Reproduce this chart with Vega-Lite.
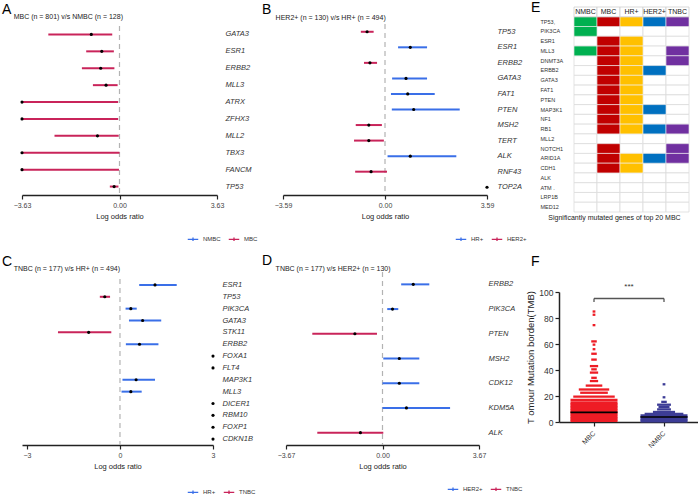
{
  "$schema": "https://vega.github.io/schema/vega-lite/v6.json",
  "padding": {"left": 2, "top": 0, "right": 0, "bottom": 0},
  "autosize": {"type": "pad"},
  "config": {
    "font": "Liberation Sans",
    "view": {"stroke": null},
    "title": {"fontSize": 14, "fontWeight": "normal", "anchor": "start", "frame": "group", "subtitleFontSize": 7, "subtitleColor": "#222", "color": "#000", "font": "Liberation Sans", "subtitleFont": "Liberation Sans"},
    "axisX": {"domainColor": "#222", "domainWidth": 1.5, "tickColor": "#222", "tickWidth": 1.2, "tickSize": 4, "labelFontSize": 7, "labelColor": "#444", "titleFontSize": 7.5, "titleFontWeight": "normal", "titleColor": "#222", "grid": false, "labelFlush": false, "labelOverlap": false, "titlePadding": 4},
    "axisY": {"domain": false, "ticks": false, "grid": false, "labelFontSize": 7.5, "labelFontStyle": "italic", "labelColor": "#333", "orient": "right", "labelOverlap": false},
    "legend": {"orient": "none", "direction": "horizontal", "labelFontSize": 6, "labelColor": "#333", "symbolType": "M-1,0H1M0,-0.35V0.35", "symbolSize": 110, "symbolStrokeWidth": 1.3, "labelOffset": 4, "columnPadding": 5, "padding": 0}
  },
  "datasets": {
    "heat": [
      {"gene": "TP53,", "NMBC": 1, "MBC": 1, "HR": 1, "HER2": 1, "TNBC": 1},
      {"gene": "PIK3CA", "NMBC": 1, "MBC": 0, "HR": 0, "HER2": 0, "TNBC": 0},
      {"gene": "ESR1", "NMBC": 0, "MBC": 1, "HR": 1, "HER2": 0, "TNBC": 0},
      {"gene": "MLL3", "NMBC": 1, "MBC": 1, "HR": 1, "HER2": 0, "TNBC": 1},
      {"gene": "DNMT3A", "NMBC": 0, "MBC": 1, "HR": 1, "HER2": 0, "TNBC": 1},
      {"gene": "ERBB2", "NMBC": 0, "MBC": 1, "HR": 1, "HER2": 1, "TNBC": 0},
      {"gene": "GATA3", "NMBC": 0, "MBC": 1, "HR": 1, "HER2": 0, "TNBC": 0},
      {"gene": "FAT1", "NMBC": 0, "MBC": 1, "HR": 1, "HER2": 0, "TNBC": 0},
      {"gene": "PTEN", "NMBC": 0, "MBC": 1, "HR": 1, "HER2": 0, "TNBC": 0},
      {"gene": "MAP3K1", "NMBC": 0, "MBC": 1, "HR": 1, "HER2": 1, "TNBC": 0},
      {"gene": "NF1", "NMBC": 0, "MBC": 1, "HR": 1, "HER2": 0, "TNBC": 0},
      {"gene": "RB1", "NMBC": 0, "MBC": 1, "HR": 1, "HER2": 1, "TNBC": 1},
      {"gene": "MLL2", "NMBC": 0, "MBC": 0, "HR": 0, "HER2": 0, "TNBC": 0},
      {"gene": "NOTCH1", "NMBC": 0, "MBC": 1, "HR": 0, "HER2": 0, "TNBC": 1},
      {"gene": "ARID1A", "NMBC": 0, "MBC": 1, "HR": 1, "HER2": 1, "TNBC": 1},
      {"gene": "CDH1", "NMBC": 0, "MBC": 1, "HR": 1, "HER2": 0, "TNBC": 0},
      {"gene": "ALK", "NMBC": 0, "MBC": 0, "HR": 0, "HER2": 0, "TNBC": 0},
      {"gene": "ATM .", "NMBC": 0, "MBC": 0, "HR": 0, "HER2": 0, "TNBC": 0},
      {"gene": "LRP1B", "NMBC": 0, "MBC": 0, "HR": 0, "HER2": 0, "TNBC": 0},
      {"gene": "MED12", "NMBC": 0, "MBC": 0, "HR": 0, "HER2": 0, "TNBC": 0}
    ],
    "hdr": [
      {"gene": "hdr", "grp": "NMBC", "label": "NMBC"},
      {"gene": "hdr", "grp": "MBC", "label": "MBC"},
      {"gene": "hdr", "grp": "HR", "label": "HR+"},
      {"gene": "hdr", "grp": "HER2", "label": "HER2+"},
      {"gene": "hdr", "grp": "TNBC", "label": "TNBC"}
    ]
  },
  "vconcat": [
    {
      "hconcat": [
        {
          "width": 195, "height": 188,
          "title": {"text": "A", "subtitle": "\u200b\u00a0\u00a0\u00a0\u00a0\u00a0\u00a0MBC (n = 801) v/s NMBC (n = 128)", "dx": -20, "offset": -13, "subtitlePadding": -4},
          "data": {"values": [
            {"gene": "GATA3", "grp": "MBC", "lo": -2.65, "est": -1.05, "hi": -0.27},
            {"gene": "ESR1", "grp": "MBC", "lo": -1.24, "est": -0.66, "hi": -0.21},
            {"gene": "ERBB2", "grp": "MBC", "lo": -1.40, "est": -0.70, "hi": -0.19},
            {"gene": "MLL3", "grp": "MBC", "lo": -0.99, "est": -0.50, "hi": -0.07},
            {"gene": "ATRX", "grp": "MBC", "lo": -3.63, "est": -3.63, "hi": -0.05},
            {"gene": "ZFHX3", "grp": "MBC", "lo": -3.63, "est": -3.63, "hi": -0.05},
            {"gene": "MLL2", "grp": "MBC", "lo": -2.42, "est": -0.82, "hi": -0.03},
            {"gene": "TBX3", "grp": "MBC", "lo": -3.63, "est": -3.63, "hi": 0.0},
            {"gene": "FANCM", "grp": "MBC", "lo": -3.63, "est": -3.63, "hi": -0.02},
            {"gene": "TP53", "grp": "MBC", "lo": -0.36, "est": -0.20, "hi": -0.04}
          ]},
          "layer": [
            {
              "data": {"values": [{}]},
              "mark": {"type": "rule", "color": "#b3b3b3", "strokeDash": [5, 4], "strokeWidth": 1.2},
              "encoding": {
                "x": {"datum": 0, "type": "quantitative", "scale": {"domain": [-3.63, 3.63], "nice": false, "zero": false}, "axis": {"values": [-3.63, 0, 3.63], "format": ".2f", "title": "Log odds ratio"}},
                "y": {"datum": "GATA3", "type": "nominal", "bandPosition": 0, "scale": {"domain": ["GATA3", "ESR1", "ERBB2", "MLL3", "ATRX", "ZFHX3", "MLL2", "TBX3", "FANCM", "TP53"], "range": [19, 188], "paddingInner": 0, "paddingOuter": 0}, "axis": {"title": null, "labelPadding": 8}},
                "y2": {"datum": "TP53", "bandPosition": 1}
              }
            },
            {
              "mark": {"type": "rule", "strokeWidth": 2},
              "transform": [{"filter": "isValid(datum.lo)"}],
              "encoding": {
                "x": {"field": "lo", "type": "quantitative"},
                "x2": {"field": "hi"},
                "y": {"field": "gene", "type": "nominal"},
                "color": {"field": "grp", "type": "nominal", "scale": {"domain": ["NMBC", "MBC"], "range": ["#3A6FE8", "#C9245A"]}, "legend": {"title": null, "legendX": 165, "legendY": 226}}
              }
            },
            {
              "mark": {"type": "point", "filled": true, "color": "#000", "size": 10, "opacity": 1},
              "encoding": {"x": {"field": "est", "type": "quantitative"}, "y": {"field": "gene", "type": "nominal"}}
            }
          ]
        },
        {
          "hconcat": [
            {
              "width": 204, "height": 188,
              "title": {"text": "B", "subtitle": "\u200b\u00a0\u00a0\u00a0\u00a0\u00a0\u00a0\u00a0HER2+ (n = 130) v/s HR+ (n = 494)", "dx": -21, "offset": -14, "subtitlePadding": -3},
              "data": {"values": [
                {"gene": "TP53", "grp": "HER2+", "lo": -0.85, "est": -0.63, "hi": -0.40},
                {"gene": "ESR1", "grp": "HR+", "lo": 0.46, "est": 0.89, "hi": 1.48},
                {"gene": "ERBB2", "grp": "HER2+", "lo": -0.74, "est": -0.53, "hi": -0.28},
                {"gene": "GATA3", "grp": "HR+", "lo": 0.25, "est": 0.74, "hi": 1.48},
                {"gene": "FAT1", "grp": "HR+", "lo": 0.21, "est": 0.80, "hi": 1.75},
                {"gene": "PTEN", "grp": "HR+", "lo": 0.24, "est": 1.01, "hi": 2.63},
                {"gene": "MSH2", "grp": "HER2+", "lo": -1.03, "est": -0.57, "hi": -0.11},
                {"gene": "TERT", "grp": "HER2+", "lo": -1.09, "est": -0.57, "hi": -0.04},
                {"gene": "ALK", "grp": "HR+", "lo": 0.09, "est": 0.89, "hi": 2.51},
                {"gene": "RNF43", "grp": "HER2+", "lo": -1.05, "est": -0.49, "hi": 0.07},
                {"gene": "TOP2A", "grp": null, "lo": null, "est": 3.59, "hi": null}
              ]},
              "layer": [
                {
                  "data": {"values": [{}]},
                  "mark": {"type": "rule", "color": "#b3b3b3", "strokeDash": [5, 4], "strokeWidth": 1.2},
                  "encoding": {
                    "x": {"datum": 0, "type": "quantitative", "scale": {"domain": [-3.59, 3.59], "nice": false, "zero": false}, "axis": {"values": [-3.59, 0, 3.59], "format": ".2f", "title": "Log odds ratio"}},
                    "y": {"datum": "TP53", "type": "nominal", "bandPosition": 0, "scale": {"domain": ["TP53", "ESR1", "ERBB2", "GATA3", "FAT1", "PTEN", "MSH2", "TERT", "ALK", "RNF43", "TOP2A"], "range": [17, 188], "paddingInner": 0, "paddingOuter": 0}, "axis": {"title": null, "labelPadding": 10}},
                    "y2": {"datum": "TOP2A", "bandPosition": 1}
                  }
                },
                {
                  "mark": {"type": "rule", "strokeWidth": 2},
                  "transform": [{"filter": "isValid(datum.lo)"}],
                  "encoding": {
                    "x": {"field": "lo", "type": "quantitative"},
                    "x2": {"field": "hi"},
                    "y": {"field": "gene", "type": "nominal"},
                    "color": {"field": "grp", "type": "nominal", "scale": {"domain": ["HR+", "HER2+"], "range": ["#3A6FE8", "#C9245A"]}, "legend": {"title": null, "legendX": 172, "legendY": 226}}
                  }
                },
                {
                  "mark": {"type": "point", "filled": true, "color": "#000", "size": 10, "opacity": 1, "clip": false},
                  "encoding": {"x": {"field": "est", "type": "quantitative"}, "y": {"field": "gene", "type": "nominal"}}
                }
              ]
            },
            {
              "width": 115, "height": 205,
              "title": {"text": "E", "dx": -43, "offset": -8},
              "layer": [
                {
                  "data": {"name": "heat"},
                  "transform": [{"fold": ["NMBC", "MBC", "HR", "HER2", "TNBC"], "as": ["grp", "v"]}],
                  "mark": {"type": "rect", "fill": "#ffffff", "stroke": "#dcdcdc", "strokeWidth": 0.8},
                  "encoding": {
                    "x": {"field": "grp", "type": "nominal", "scale": {"domain": ["NMBC", "MBC", "HR", "HER2", "TNBC"], "paddingInner": 0, "paddingOuter": 0}, "axis": {"orient": "bottom", "labels": false, "ticks": false, "domain": false, "title": "Significantly mutated genes of top 20 MBC", "titleFontSize": 7, "titleX": 40, "titleAlign": "center", "titlePadding": 1, "titleColor": "#222"}},
                    "y": {"field": "gene", "type": "nominal", "scale": {"domain": ["hdr", "TP53,", "PIK3CA", "ESR1", "MLL3", "DNMT3A", "ERBB2", "GATA3", "FAT1", "PTEN", "MAP3K1", "NF1", "RB1", "MLL2", "NOTCH1", "ARID1A", "CDH1", "ALK", "ATM .", "LRP1B", "MED12"], "paddingInner": 0, "paddingOuter": 0}, "axis": {"orient": "left", "labelAlign": "left", "labelPadding": 34, "tickSize": 0, "labelFontSize": 5.5, "labelFontStyle": "normal", "labelColor": "#333", "title": null, "labelExpr": "datum.value == 'hdr' ? '' : datum.value"}}
                  }
                },
                {
                  "data": {"name": "heat"},
                  "transform": [{"fold": ["NMBC", "MBC", "HR", "HER2", "TNBC"], "as": ["grp", "v"]}, {"filter": "datum.v == 1"}],
                  "mark": {"type": "rect", "stroke": "#f4f4f4", "strokeWidth": 0.6, "opacity": 1},
                  "encoding": {
                    "x": {"field": "grp", "type": "nominal"},
                    "y": {"field": "gene", "type": "nominal"},
                    "color": {"field": "grp", "type": "nominal", "scale": {"domain": ["NMBC", "MBC", "HR", "HER2", "TNBC"], "range": ["#00B050", "#C00000", "#FFC000", "#0070C0", "#7030A0"]}, "legend": null}
                  }
                },
                {
                  "data": {"name": "hdr"},
                  "mark": {"type": "rect", "fill": "#ffffff", "stroke": "#cfcfcf", "strokeWidth": 0.8},
                  "encoding": {"x": {"field": "grp", "type": "nominal"}, "y": {"field": "gene", "type": "nominal"}}
                },
                {
                  "data": {"name": "hdr"},
                  "mark": {"type": "text", "fontSize": 7, "color": "#222", "font": "Liberation Sans"},
                  "encoding": {"x": {"field": "grp", "type": "nominal"}, "y": {"field": "gene", "type": "nominal"}, "text": {"field": "label"}}
                }
              ]
            }
          ],
          "spacing": 87,
          "bounds": "flush",
          "resolve": {"scale": {"color": "independent"}, "legend": {"color": "independent"}}
        }
      ],
      "spacing": 66,
      "bounds": "flush",
      "resolve": {"scale": {"color": "independent"}, "legend": {"color": "independent"}}
    },
    {
      "hconcat": [
        {
          "width": 191, "height": 173,
          "title": {"text": "C", "subtitle": "\u200b\u00a0\u00a0\u00a0\u00a0\u00a0\u00a0TNBC (n = 177) v/s HR+ (n = 494)", "dx": -20, "offset": 0, "subtitlePadding": -4},
          "data": {"values": [
            {"gene": "ESR1", "grp": "HR+", "lo": 0.62, "est": 1.13, "hi": 1.83},
            {"gene": "TP53", "grp": "TNBC", "lo": -0.65, "est": -0.49, "hi": -0.32},
            {"gene": "PIK3CA", "grp": "HR+", "lo": 0.18, "est": 0.35, "hi": 0.54},
            {"gene": "GATA3", "grp": "HR+", "lo": 0.29, "est": 0.73, "hi": 1.33},
            {"gene": "STK11", "grp": "TNBC", "lo": -2.0, "est": -1.01, "hi": -0.28},
            {"gene": "ERBB2", "grp": "HR+", "lo": 0.19, "est": 0.63, "hi": 1.24},
            {"gene": "FOXA1", "grp": null, "lo": null, "est": 3, "hi": null},
            {"gene": "FLT4", "grp": null, "lo": null, "est": 3, "hi": null},
            {"gene": "MAP3K1", "grp": "HR+", "lo": 0.08, "est": 0.52, "hi": 1.13},
            {"gene": "MLL3", "grp": "HR+", "lo": 0.05, "est": 0.35, "hi": 0.70},
            {"gene": "DICER1", "grp": null, "lo": null, "est": 3, "hi": null},
            {"gene": "RBM10", "grp": null, "lo": null, "est": 3, "hi": null},
            {"gene": "FOXP1", "grp": null, "lo": null, "est": 3, "hi": null},
            {"gene": "CDKN1B", "grp": null, "lo": null, "est": 3, "hi": null}
          ]},
          "layer": [
            {
              "data": {"values": [{}]},
              "mark": {"type": "rule", "color": "#b3b3b3", "strokeDash": [5, 4], "strokeWidth": 1.2},
              "encoding": {
                "x": {"datum": 0, "type": "quantitative", "scale": {"domain": [-3.16, 3], "nice": false, "zero": false}, "axis": {"values": [-3, 0, 3], "format": "d", "title": "Log odds ratio"}},
                "y": {"datum": "ESR1", "type": "nominal", "bandPosition": 0, "scale": {"domain": ["ESR1", "TP53", "PIK3CA", "GATA3", "STK11", "ERBB2", "FOXA1", "FLT4", "MAP3K1", "MLL3", "DICER1", "RBM10", "FOXP1", "CDKN1B"], "range": [7, 173], "paddingInner": 0, "paddingOuter": 0}, "axis": {"title": null, "labelPadding": 9}},
                "y2": {"datum": "CDKN1B", "bandPosition": 1}
              }
            },
            {
              "mark": {"type": "rule", "strokeWidth": 2},
              "transform": [{"filter": "isValid(datum.lo)"}],
              "encoding": {
                "x": {"field": "lo", "type": "quantitative"},
                "x2": {"field": "hi"},
                "y": {"field": "gene", "type": "nominal"},
                "color": {"field": "grp", "type": "nominal", "scale": {"domain": ["HR+", "TNBC"], "range": ["#3A6FE8", "#C9245A"]}, "legend": {"title": null, "legendX": 165, "legendY": 214}}
              }
            },
            {
              "mark": {"type": "point", "filled": true, "color": "#000", "size": 10, "opacity": 1, "clip": false},
              "encoding": {"x": {"field": "est", "type": "quantitative"}, "y": {"field": "gene", "type": "nominal"}}
            }
          ]
        },
        {
          "hconcat": [
            {
              "width": 193, "height": 173,
              "title": {"text": "D", "subtitle": "\u200b\u00a0\u00a0\u00a0\u00a0\u00a0\u00a0\u00a0TNBC (n = 177) v/s HER2+ (n = 130)", "dx": -24, "offset": -1, "subtitlePadding": -3},
              "data": {"values": [
                {"gene": "ERBB2", "grp": "HER2+", "lo": 0.71, "est": 1.17, "hi": 1.78},
                {"gene": "PIK3CA", "grp": "HER2+", "lo": 0.18, "est": 0.38, "hi": 0.60},
                {"gene": "PTEN", "grp": "TNBC", "lo": -2.67, "est": -1.05, "hi": -0.21},
                {"gene": "MSH2", "grp": "HER2+", "lo": 0.03, "est": 0.64, "hi": 1.40},
                {"gene": "CDK12", "grp": "HER2+", "lo": 0.0, "est": 0.64, "hi": 1.40},
                {"gene": "KDM5A", "grp": "HER2+", "lo": 0.0, "est": 0.91, "hi": 2.57},
                {"gene": "ALK", "grp": "TNBC", "lo": -2.48, "est": -0.84, "hi": 0.03}
              ]},
              "layer": [
                {
                  "data": {"values": [{}]},
                  "mark": {"type": "rule", "color": "#b3b3b3", "strokeDash": [5, 4], "strokeWidth": 1.2},
                  "encoding": {
                    "x": {"datum": 0, "type": "quantitative", "scale": {"domain": [-3.67, 3.67], "nice": false, "zero": false}, "axis": {"values": [-3.67, 0, 3.67], "format": ".2f", "title": "Log odds ratio"}},
                    "y": {"datum": "ERBB2", "type": "nominal", "bandPosition": 0, "scale": {"domain": ["ERBB2", "PIK3CA", "PTEN", "MSH2", "CDK12", "KDM5A", "ALK"], "range": [0, 173], "paddingInner": 0, "paddingOuter": 0}, "axis": {"title": null, "labelPadding": 9}},
                    "y2": {"datum": "ALK", "bandPosition": 1}
                  }
                },
                {
                  "mark": {"type": "rule", "strokeWidth": 2},
                  "encoding": {
                    "x": {"field": "lo", "type": "quantitative"},
                    "x2": {"field": "hi"},
                    "y": {"field": "gene", "type": "nominal"},
                    "color": {"field": "grp", "type": "nominal", "scale": {"domain": ["HER2+", "TNBC"], "range": ["#3A6FE8", "#C9245A"]}, "legend": {"title": null, "legendX": 161, "legendY": 211}}
                  }
                },
                {
                  "mark": {"type": "point", "filled": true, "color": "#000", "size": 10, "opacity": 1},
                  "encoding": {"x": {"field": "est", "type": "quantitative"}, "y": {"field": "gene", "type": "nominal"}}
                }
              ]
            },
            {
              "width": 140, "height": 150,
              "title": {"text": "F", "dx": -28, "offset": 3},
              "layer": [
                {
                  "data": {"values": [
                    {"g": "MBC", "tmb": 85, "n": 1}, {"g": "MBC", "tmb": 82.5, "n": 1}, {"g": "MBC", "tmb": 74.5, "n": 1},
                    {"g": "MBC", "tmb": 62, "n": 2}, {"g": "MBC", "tmb": 59.5, "n": 1}, {"g": "MBC", "tmb": 56, "n": 1},
                    {"g": "MBC", "tmb": 52.5, "n": 2}, {"g": "MBC", "tmb": 48, "n": 2}, {"g": "MBC", "tmb": 43, "n": 3},
                    {"g": "MBC", "tmb": 40.5, "n": 2}, {"g": "MBC", "tmb": 38, "n": 3}, {"g": "MBC", "tmb": 34, "n": 2},
                    {"g": "MBC", "tmb": 31.5, "n": 3}, {"g": "MBC", "tmb": 28, "n": 6}, {"g": "MBC", "tmb": 25, "n": 11},
                    {"g": "MBC", "tmb": 22.5, "n": 10}, {"g": "MBC", "tmb": 19.5, "n": 15}, {"g": "MBC", "tmb": 17, "n": 17},
                    {"g": "MBC", "tmb": 15, "n": 17}, {"g": "MBC", "tmb": 13.8, "n": 17}, {"g": "MBC", "tmb": 12.6, "n": 17},
                    {"g": "MBC", "tmb": 11.4, "n": 17}, {"g": "MBC", "tmb": 10.2, "n": 17}, {"g": "MBC", "tmb": 9, "n": 17},
                    {"g": "MBC", "tmb": 7.8, "n": 17}, {"g": "MBC", "tmb": 6.6, "n": 17}, {"g": "MBC", "tmb": 5.4, "n": 17},
                    {"g": "MBC", "tmb": 4.2, "n": 17}, {"g": "MBC", "tmb": 3, "n": 17}, {"g": "MBC", "tmb": 1.8, "n": 17},
                    {"g": "MBC", "tmb": 0.8, "n": 17},
                    {"g": "NMBC", "tmb": 29, "n": 1}, {"g": "NMBC", "tmb": 19, "n": 1}, {"g": "NMBC", "tmb": 15.5, "n": 2},
                    {"g": "NMBC", "tmb": 13.3, "n": 5}, {"g": "NMBC", "tmb": 11.5, "n": 4}, {"g": "NMBC", "tmb": 9.7, "n": 5},
                    {"g": "NMBC", "tmb": 7.7, "n": 8}, {"g": "NMBC", "tmb": 6.2, "n": 14}, {"g": "NMBC", "tmb": 5, "n": 17},
                    {"g": "NMBC", "tmb": 3.8, "n": 17}, {"g": "NMBC", "tmb": 2.6, "n": 17}, {"g": "NMBC", "tmb": 1.4, "n": 17},
                    {"g": "NMBC", "tmb": 0.5, "n": 17}
                  ]},
                  "mark": {"type": "tick", "thickness": 2.3, "opacity": 1},
                  "encoding": {
                    "x": {"field": "g", "type": "nominal", "scale": {"type": "point", "domain": ["MBC", "NMBC"], "padding": 0.5}, "axis": {"title": null, "labelAngle": -45, "labelAlign": "right", "labelBaseline": "middle", "labelPadding": 6, "labelFontSize": 7, "labelColor": "#333"}},
                    "y": {"field": "tmb", "type": "quantitative", "scale": {"domain": [0, 100], "range": [150, 20], "nice": false}, "axis": {"orient": "left", "domain": true, "domainColor": "#222", "domainWidth": 1.5, "ticks": true, "tickColor": "#222", "tickWidth": 1.2, "tickSize": 4, "values": [0, 20, 40, 60, 80, 100], "tickCount": 6, "labelOverlap": false, "labelFontSize": 8.5, "labelFontStyle": "normal", "labelColor": "#333", "labelPadding": 2, "title": "T omour Mutation borden(TMB)", "titleFontSize": 9.5, "titleFontWeight": "normal", "titleColor": "#222", "titlePadding": 3}},
                    "size": {"field": "n", "type": "quantitative", "scale": {"domain": [0, 17], "range": [0, 47], "clamp": true}, "legend": null},
                    "color": {"field": "g", "type": "nominal", "scale": {"domain": ["MBC", "NMBC"], "range": ["#EE1C25", "#3C3C96"]}, "legend": null}
                  }
                },
                {
                  "data": {"values": [{"g": "MBC", "med": 7.4}, {"g": "NMBC", "med": 3.8}]},
                  "mark": {"type": "tick", "thickness": 1.6, "color": "#000", "size": 47, "opacity": 1},
                  "encoding": {"x": {"field": "g", "type": "nominal"}, "y": {"field": "med", "type": "quantitative"}}
                },
                {
                  "data": {"values": [{"a": "MBC", "b": "NMBC", "y": 95}]},
                  "mark": {"type": "rule", "color": "#555", "strokeWidth": 1.3},
                  "encoding": {"x": {"field": "a", "type": "nominal"}, "x2": {"field": "b"}, "y": {"field": "y", "type": "quantitative"}}
                },
                {
                  "data": {"values": [{"g": "MBC", "y1": 92.3, "y2": 95}, {"g": "NMBC", "y1": 92.3, "y2": 95}]},
                  "mark": {"type": "rule", "color": "#555", "strokeWidth": 1.3},
                  "encoding": {"x": {"field": "g", "type": "nominal"}, "y": {"field": "y1", "type": "quantitative"}, "y2": {"field": "y2"}}
                },
                {
                  "data": {"values": [{"t": "***", "y": 104}]},
                  "mark": {"type": "text", "fontSize": 8, "color": "#333", "align": "center", "baseline": "middle"},
                  "encoding": {"y": {"field": "y", "type": "quantitative"}, "text": {"field": "t"}}
                }
              ]
            }
          ],
          "spacing": 80,
          "bounds": "flush",
          "resolve": {"scale": {"color": "independent", "size": "independent"}, "legend": {"color": "independent"}}
        }
      ],
      "spacing": 73,
      "bounds": "flush",
      "resolve": {"scale": {"color": "independent", "size": "independent"}, "legend": {"color": "independent"}}
    }
  ],
  "spacing": 265,
  "bounds": "flush",
  "resolve": {"scale": {"color": "independent", "size": "independent"}, "legend": {"color": "independent"}}
}
